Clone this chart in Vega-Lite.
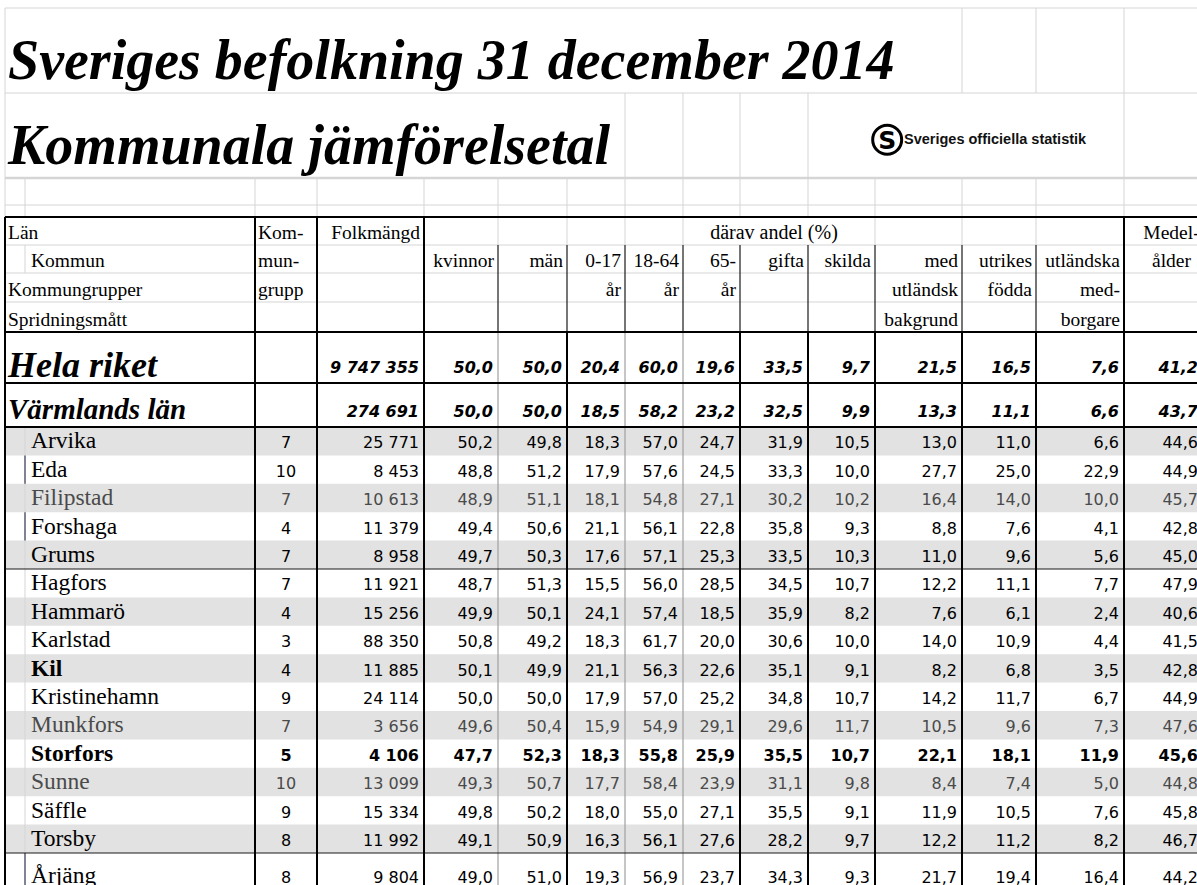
{
  "$schema": "https://vega.github.io/schema/vega-lite/v6.json",
  "width": 1197,
  "height": 885,
  "autosize": {"type": "none"},
  "padding": 0,
  "background": "white",
  "config": {
    "view": {"stroke": null},
    "axis": {"disable": true},
    "locale": {"number": {"decimal": ",", "thousands": " ", "grouping": [3], "currency": ["", " kr"]}}
  },
  "datasets": {
    "rows": [
      {"name": "Hela riket", "level": "riket", "r": 9, "grupp": null, "folk": 9747355, "kv": 50.0, "man": 50.0, "a017": 20.4, "a1864": 60.0, "a65": 19.6, "gifta": 33.5, "skilda": 9.7, "utlbak": 21.5, "utrfod": 16.5, "utlmed": 7.6, "alder": 41.2},
      {"name": "Värmlands län", "level": "lan", "r": 10, "grupp": null, "folk": 274691, "kv": 50.0, "man": 50.0, "a017": 18.5, "a1864": 58.2, "a65": 23.2, "gifta": 32.5, "skilda": 9.9, "utlbak": 13.3, "utrfod": 11.1, "utlmed": 6.6, "alder": 43.7},
      {"name": "Arvika", "level": "kommun", "r": 11, "grupp": 7, "folk": 25771, "kv": 50.2, "man": 49.8, "a017": 18.3, "a1864": 57.0, "a65": 24.7, "gifta": 31.9, "skilda": 10.5, "utlbak": 13.0, "utrfod": 11.0, "utlmed": 6.6, "alder": 44.6},
      {"name": "Eda", "level": "kommun", "r": 12, "grupp": 10, "folk": 8453, "kv": 48.8, "man": 51.2, "a017": 17.9, "a1864": 57.6, "a65": 24.5, "gifta": 33.3, "skilda": 10.0, "utlbak": 27.7, "utrfod": 25.0, "utlmed": 22.9, "alder": 44.9},
      {"name": "Filipstad", "level": "kommun", "r": 13, "grupp": 7, "folk": 10613, "kv": 48.9, "man": 51.1, "a017": 18.1, "a1864": 54.8, "a65": 27.1, "gifta": 30.2, "skilda": 10.2, "utlbak": 16.4, "utrfod": 14.0, "utlmed": 10.0, "alder": 45.7},
      {"name": "Forshaga", "level": "kommun", "r": 14, "grupp": 4, "folk": 11379, "kv": 49.4, "man": 50.6, "a017": 21.1, "a1864": 56.1, "a65": 22.8, "gifta": 35.8, "skilda": 9.3, "utlbak": 8.8, "utrfod": 7.6, "utlmed": 4.1, "alder": 42.8},
      {"name": "Grums", "level": "kommun", "r": 15, "grupp": 7, "folk": 8958, "kv": 49.7, "man": 50.3, "a017": 17.6, "a1864": 57.1, "a65": 25.3, "gifta": 33.5, "skilda": 10.3, "utlbak": 11.0, "utrfod": 9.6, "utlmed": 5.6, "alder": 45.0},
      {"name": "Hagfors", "level": "kommun", "r": 16, "grupp": 7, "folk": 11921, "kv": 48.7, "man": 51.3, "a017": 15.5, "a1864": 56.0, "a65": 28.5, "gifta": 34.5, "skilda": 10.7, "utlbak": 12.2, "utrfod": 11.1, "utlmed": 7.7, "alder": 47.9},
      {"name": "Hammarö", "level": "kommun", "r": 17, "grupp": 4, "folk": 15256, "kv": 49.9, "man": 50.1, "a017": 24.1, "a1864": 57.4, "a65": 18.5, "gifta": 35.9, "skilda": 8.2, "utlbak": 7.6, "utrfod": 6.1, "utlmed": 2.4, "alder": 40.6},
      {"name": "Karlstad", "level": "kommun", "r": 18, "grupp": 3, "folk": 88350, "kv": 50.8, "man": 49.2, "a017": 18.3, "a1864": 61.7, "a65": 20.0, "gifta": 30.6, "skilda": 10.0, "utlbak": 14.0, "utrfod": 10.9, "utlmed": 4.4, "alder": 41.5},
      {"name": "Kil", "level": "kommun", "r": 19, "grupp": 4, "folk": 11885, "kv": 50.1, "man": 49.9, "a017": 21.1, "a1864": 56.3, "a65": 22.6, "gifta": 35.1, "skilda": 9.1, "utlbak": 8.2, "utrfod": 6.8, "utlmed": 3.5, "alder": 42.8},
      {"name": "Kristinehamn", "level": "kommun", "r": 20, "grupp": 9, "folk": 24114, "kv": 50.0, "man": 50.0, "a017": 17.9, "a1864": 57.0, "a65": 25.2, "gifta": 34.8, "skilda": 10.7, "utlbak": 14.2, "utrfod": 11.7, "utlmed": 6.7, "alder": 44.9},
      {"name": "Munkfors", "level": "kommun", "r": 21, "grupp": 7, "folk": 3656, "kv": 49.6, "man": 50.4, "a017": 15.9, "a1864": 54.9, "a65": 29.1, "gifta": 29.6, "skilda": 11.7, "utlbak": 10.5, "utrfod": 9.6, "utlmed": 7.3, "alder": 47.6},
      {"name": "Storfors", "level": "kommun", "r": 22, "grupp": 5, "folk": 4106, "kv": 47.7, "man": 52.3, "a017": 18.3, "a1864": 55.8, "a65": 25.9, "gifta": 35.5, "skilda": 10.7, "utlbak": 22.1, "utrfod": 18.1, "utlmed": 11.9, "alder": 45.6},
      {"name": "Sunne", "level": "kommun", "r": 23, "grupp": 10, "folk": 13099, "kv": 49.3, "man": 50.7, "a017": 17.7, "a1864": 58.4, "a65": 23.9, "gifta": 31.1, "skilda": 9.8, "utlbak": 8.4, "utrfod": 7.4, "utlmed": 5.0, "alder": 44.8},
      {"name": "Säffle", "level": "kommun", "r": 24, "grupp": 9, "folk": 15334, "kv": 49.8, "man": 50.2, "a017": 18.0, "a1864": 55.0, "a65": 27.1, "gifta": 35.5, "skilda": 9.1, "utlbak": 11.9, "utrfod": 10.5, "utlmed": 7.6, "alder": 45.8},
      {"name": "Torsby", "level": "kommun", "r": 25, "grupp": 8, "folk": 11992, "kv": 49.1, "man": 50.9, "a017": 16.3, "a1864": 56.1, "a65": 27.6, "gifta": 28.2, "skilda": 9.7, "utlbak": 12.2, "utrfod": 11.2, "utlmed": 8.2, "alder": 46.7},
      {"name": "Årjäng", "level": "kommun", "r": 26, "grupp": 8, "folk": 9804, "kv": 49.0, "man": 51.0, "a017": 19.3, "a1864": 56.9, "a65": 23.7, "gifta": 34.3, "skilda": 9.3, "utlbak": 21.7, "utrfod": 19.4, "utlmed": 16.4, "alder": 44.2}
    ],
    "cols": [
      {"col": "grupp", "k": 3}, {"col": "folk", "k": 4}, {"col": "kv", "k": 5}, {"col": "man", "k": 6},
      {"col": "a017", "k": 7}, {"col": "a1864", "k": 8}, {"col": "a65", "k": 9}, {"col": "gifta", "k": 10},
      {"col": "skilda", "k": 11}, {"col": "utlbak", "k": 12}, {"col": "utrfod", "k": 13}, {"col": "utlmed", "k": 14},
      {"col": "alder", "k": 15}
    ],
    "head": [
      {"r": 5, "col": "label", "t": "Län"},
      {"r": 5, "col": "grupp", "t": "Kom-"},
      {"r": 5, "col": "folk", "t": "Folkmängd"},
      {"r": 5, "col": "andel", "t": "därav andel (%)"},
      {"r": 5, "col": "alder", "t": "Medel-"},
      {"r": 6, "col": "kommun", "t": "Kommun"},
      {"r": 6, "col": "grupp", "t": "mun-"},
      {"r": 6, "col": "kv", "t": "kvinnor"},
      {"r": 6, "col": "man", "t": "män"},
      {"r": 6, "col": "a017", "t": "0-17"},
      {"r": 6, "col": "a1864", "t": "18-64"},
      {"r": 6, "col": "a65", "t": "65-"},
      {"r": 6, "col": "gifta", "t": "gifta"},
      {"r": 6, "col": "skilda", "t": "skilda"},
      {"r": 6, "col": "utlbak", "t": "med"},
      {"r": 6, "col": "utrfod", "t": "utrikes"},
      {"r": 6, "col": "utlmed", "t": "utländska"},
      {"r": 6, "col": "alder", "t": "ålder"},
      {"r": 7, "col": "label", "t": "Kommungrupper"},
      {"r": 7, "col": "grupp", "t": "grupp"},
      {"r": 7, "col": "a017", "t": "år"},
      {"r": 7, "col": "a1864", "t": "år"},
      {"r": 7, "col": "a65", "t": "år"},
      {"r": 7, "col": "utlbak", "t": "utländsk"},
      {"r": 7, "col": "utrfod", "t": "födda"},
      {"r": 7, "col": "utlmed", "t": "med-"},
      {"r": 8, "col": "label", "t": "Spridningsmått"},
      {"r": 8, "col": "utlbak", "t": "bakgrund"},
      {"r": 8, "col": "utlmed", "t": "borgare"}
    ],
    "titles": [
      {"r": 1, "t": "Sveriges befolkning 31 december 2014"},
      {"r": 2, "t": "Kommunala jämförelsetal"}
    ],
    "logo": [{"s": "S", "t": "Sveriges officiella statistik"}],
    "lines": [
      {"kind": "grid", "c1": 0, "c2": 15, "r1": 0, "r2": 0},
      {"kind": "grid", "c1": 0, "c2": 15, "r1": 1, "r2": 1},
      {"kind": "grid2", "c1": 0, "c2": 15, "r1": 2, "r2": 2},
      {"kind": "grid", "c1": 0, "c2": 15, "r1": 3, "r2": 3},
      {"kind": "thick", "c1": 0, "c2": 15, "r1": 4, "r2": 4},
      {"kind": "grid", "c1": 0, "c2": 15, "r1": 5, "r2": 5},
      {"kind": "grid", "c1": 0, "c2": 15, "r1": 6, "r2": 6},
      {"kind": "grid", "c1": 0, "c2": 15, "r1": 7, "r2": 7},
      {"kind": "thick", "c1": 0, "c2": 15, "r1": 8, "r2": 8},
      {"kind": "thick", "c1": 0, "c2": 15, "r1": 9, "r2": 9},
      {"kind": "thick", "c1": 0, "c2": 15, "r1": 10, "r2": 10},
      {"kind": "thin", "c1": 0, "c2": 15, "r1": 15, "r2": 15},
      {"kind": "thin", "c1": 0, "c2": 15, "r1": 25, "r2": 25},
      {"kind": "grid", "c1": 0, "c2": 0, "r1": 0, "r2": 4},
      {"kind": "grid", "c1": 12, "c2": 12, "r1": 0, "r2": 1},
      {"kind": "grid", "c1": 13, "c2": 13, "r1": 0, "r2": 1},
      {"kind": "grid", "c1": 14, "c2": 14, "r1": 0, "r2": 1},
      {"kind": "grid", "c1": 7, "c2": 7, "r1": 1, "r2": 2},
      {"kind": "grid", "c1": 8, "c2": 8, "r1": 1, "r2": 2},
      {"kind": "grid", "c1": 9, "c2": 9, "r1": 1, "r2": 2},
      {"kind": "grid", "c1": 10, "c2": 10, "r1": 1, "r2": 2},
      {"kind": "grid", "c1": 14, "c2": 14, "r1": 1, "r2": 2},
      {"kind": "grid", "c1": 1, "c2": 1, "r1": 2, "r2": 4},
      {"kind": "grid", "c1": 2, "c2": 2, "r1": 2, "r2": 4},
      {"kind": "grid", "c1": 3, "c2": 3, "r1": 2, "r2": 4},
      {"kind": "grid", "c1": 4, "c2": 4, "r1": 2, "r2": 4},
      {"kind": "grid", "c1": 5, "c2": 5, "r1": 2, "r2": 4},
      {"kind": "grid", "c1": 6, "c2": 6, "r1": 2, "r2": 4},
      {"kind": "grid", "c1": 7, "c2": 7, "r1": 2, "r2": 4},
      {"kind": "grid", "c1": 8, "c2": 8, "r1": 2, "r2": 4},
      {"kind": "grid", "c1": 9, "c2": 9, "r1": 2, "r2": 4},
      {"kind": "grid", "c1": 10, "c2": 10, "r1": 2, "r2": 4},
      {"kind": "grid", "c1": 11, "c2": 11, "r1": 2, "r2": 4},
      {"kind": "grid", "c1": 12, "c2": 12, "r1": 2, "r2": 4},
      {"kind": "grid", "c1": 13, "c2": 13, "r1": 2, "r2": 4},
      {"kind": "grid", "c1": 14, "c2": 14, "r1": 2, "r2": 4},
      {"kind": "grid", "c1": 1, "c2": 1, "r1": 5, "r2": 6},
      {"kind": "grid", "c1": 5, "c2": 5, "r1": 4, "r2": 5},
      {"kind": "grid", "c1": 6, "c2": 6, "r1": 4, "r2": 5},
      {"kind": "grid", "c1": 7, "c2": 7, "r1": 4, "r2": 5},
      {"kind": "grid", "c1": 8, "c2": 8, "r1": 4, "r2": 5},
      {"kind": "grid", "c1": 11, "c2": 11, "r1": 4, "r2": 5},
      {"kind": "grid", "c1": 12, "c2": 12, "r1": 4, "r2": 5},
      {"kind": "grid", "c1": 13, "c2": 13, "r1": 4, "r2": 5},
      {"kind": "grid", "c1": 1, "c2": 1, "r1": 10, "r2": 26},
      {"kind": "accent", "c1": 1, "c2": 1, "r1": 11, "r2": 12},
      {"kind": "accent", "c1": 1, "c2": 1, "r1": 13, "r2": 14},
      {"kind": "accent", "c1": 1, "c2": 1, "r1": 25, "r2": 26},
      {"kind": "thin", "c1": 5, "c2": 5, "r1": 5, "r2": 8},
      {"kind": "thin", "c1": 6, "c2": 6, "r1": 5, "r2": 8},
      {"kind": "thin", "c1": 7, "c2": 7, "r1": 5, "r2": 8},
      {"kind": "thin", "c1": 8, "c2": 8, "r1": 5, "r2": 8},
      {"kind": "thin", "c1": 9, "c2": 9, "r1": 5, "r2": 8},
      {"kind": "thin", "c1": 10, "c2": 10, "r1": 5, "r2": 8},
      {"kind": "thin", "c1": 11, "c2": 11, "r1": 5, "r2": 8},
      {"kind": "thin", "c1": 12, "c2": 12, "r1": 5, "r2": 8},
      {"kind": "thin", "c1": 13, "c2": 13, "r1": 5, "r2": 8},
      {"kind": "mid", "c1": 5, "c2": 5, "r1": 8, "r2": 26},
      {"kind": "mid", "c1": 7, "c2": 7, "r1": 8, "r2": 26},
      {"kind": "mid", "c1": 8, "c2": 8, "r1": 8, "r2": 26},
      {"kind": "thick", "c1": 0, "c2": 0, "r1": 4, "r2": 26},
      {"kind": "thick", "c1": 2, "c2": 2, "r1": 4, "r2": 26},
      {"kind": "thick", "c1": 3, "c2": 3, "r1": 4, "r2": 26},
      {"kind": "thick", "c1": 4, "c2": 4, "r1": 4, "r2": 26},
      {"kind": "thick", "c1": 14, "c2": 14, "r1": 4, "r2": 26},
      {"kind": "thick", "c1": 6, "c2": 6, "r1": 8, "r2": 26},
      {"kind": "thick", "c1": 9, "c2": 9, "r1": 8, "r2": 26},
      {"kind": "thick", "c1": 10, "c2": 10, "r1": 8, "r2": 26},
      {"kind": "thick", "c1": 11, "c2": 11, "r1": 8, "r2": 26},
      {"kind": "thick", "c1": 12, "c2": 12, "r1": 8, "r2": 26},
      {"kind": "thick", "c1": 13, "c2": 13, "r1": 8, "r2": 26}
    ]
  },
  "layer": [
    {
      "data": {"name": "rows"},
      "transform": [{"filter": "datum.level === 'kommun' && datum.r % 2 === 1"}],
      "mark": {"type": "rect", "color": "#e2e2e2", "y2Offset": -28.4},
      "encoding": {
        "x": {"datum": 0, "type": "quantitative", "axis": null, "scale": {"domain": [0, 1, 2, 3, 4, 5, 6, 7, 8, 9, 10, 11, 12, 13, 14, 15], "range": [5, 25, 255, 317, 424, 498, 567, 625, 683, 740, 808, 875, 962, 1036, 1124, 1203], "nice": false, "zero": false}},
        "x2": {"datum": 15},
        "y": {"field": "r", "type": "quantitative", "axis": null, "scale": {"domain": [0, 1, 2, 3, 4, 5, 6, 7, 8, 9, 10, 11, 12, 13, 14, 15, 16, 17, 18, 19, 20, 21, 22, 23, 24, 25, 26], "range": [8, 93, 178, 205, 217, 245, 273, 302, 332, 383, 427, 455.4, 483.8, 512.2, 540.6, 569, 597.4, 625.8, 654.2, 682.6, 711, 739.4, 767.8, 796.2, 824.6, 853, 890], "nice": false, "zero": false}},
        "y2": {"field": "r"}
      }
    },
    {
      "data": {"name": "lines"},
      "transform": [{"filter": "datum.kind === 'grid'"}],
      "mark": {"type": "rule", "color": "#d5d5d5", "strokeWidth": 1},
      "encoding": {"x": {"field": "c1", "type": "quantitative"}, "x2": {"field": "c2"}, "y": {"field": "r1", "type": "quantitative"}, "y2": {"field": "r2"}}
    },
    {
      "data": {"name": "lines"},
      "transform": [{"filter": "datum.kind === 'grid2'"}],
      "mark": {"type": "rule", "color": "#d5d5d5", "strokeWidth": 2.5},
      "encoding": {"x": {"field": "c1", "type": "quantitative"}, "x2": {"field": "c2"}, "y": {"field": "r1", "type": "quantitative"}, "y2": {"field": "r2"}}
    },
    {
      "data": {"name": "lines"},
      "transform": [{"filter": "datum.kind === 'mid'"}],
      "mark": {"type": "rule", "color": "#a0a0a0", "strokeWidth": 1.2},
      "encoding": {"x": {"field": "c1", "type": "quantitative"}, "x2": {"field": "c2"}, "y": {"field": "r1", "type": "quantitative"}, "y2": {"field": "r2"}}
    },
    {
      "data": {"name": "lines"},
      "transform": [{"filter": "datum.kind === 'accent'"}],
      "mark": {"type": "rule", "color": "#3a3f5a", "strokeWidth": 1.2},
      "encoding": {"x": {"field": "c1", "type": "quantitative"}, "x2": {"field": "c2"}, "y": {"field": "r1", "type": "quantitative"}, "y2": {"field": "r2"}}
    },
    {
      "data": {"name": "lines"},
      "transform": [{"filter": "datum.kind === 'thin'"}],
      "mark": {"type": "rule", "color": "#1a1a1a", "strokeWidth": 1.2},
      "encoding": {"x": {"field": "c1", "type": "quantitative"}, "x2": {"field": "c2"}, "y": {"field": "r1", "type": "quantitative"}, "y2": {"field": "r2"}}
    },
    {
      "data": {"name": "lines"},
      "transform": [{"filter": "datum.kind === 'thick'"}],
      "mark": {"type": "rule", "color": "#000000", "strokeWidth": 2},
      "encoding": {"x": {"field": "c1", "type": "quantitative"}, "x2": {"field": "c2"}, "y": {"field": "r1", "type": "quantitative"}, "y2": {"field": "r2"}}
    },
    {
      "data": {"name": "titles"},
      "mark": {"type": "text", "align": "left", "baseline": "alphabetic", "dx": 3, "dy": -14, "font": "Liberation Serif", "fontSize": 56, "fontWeight": "bold", "fontStyle": "italic", "color": "#000"},
      "encoding": {"x": {"datum": 0, "type": "quantitative"}, "y": {"field": "r", "type": "quantitative"}, "text": {"field": "t"}}
    },
    {
      "data": {"name": "logo"},
      "mark": {"type": "point", "shape": "circle", "filled": false, "stroke": "#000", "strokeWidth": 3, "size": 840, "opacity": 1},
      "encoding": {"x": {"datum": 11.14, "type": "quantitative"}, "y": {"datum": 1.55, "type": "quantitative"}}
    },
    {
      "data": {"name": "logo"},
      "mark": {"type": "text", "align": "center", "baseline": "middle", "dy": 1, "font": "DejaVu Sans", "fontSize": 25, "fontWeight": "bold", "color": "#000"},
      "encoding": {"x": {"datum": 11.14, "type": "quantitative"}, "y": {"datum": 1.55, "type": "quantitative"}, "text": {"field": "s"}}
    },
    {
      "data": {"name": "logo"},
      "mark": {"type": "text", "align": "left", "baseline": "middle", "dx": 29, "font": "Liberation Sans", "fontSize": 14.5, "fontWeight": "bold", "color": "#111"},
      "encoding": {"x": {"datum": 11, "type": "quantitative"}, "y": {"datum": 1.55, "type": "quantitative"}, "text": {"field": "t"}}
    },
    {
      "data": {"name": "head"},
      "transform": [{"filter": "datum.col === 'label'"}],
      "mark": {"type": "text", "align": "left", "baseline": "alphabetic", "dx": 3, "dy": -6, "font": "Liberation Serif", "fontSize": 19.5, "color": "#000"},
      "encoding": {"x": {"datum": 0, "type": "quantitative"}, "y": {"field": "r", "type": "quantitative"}, "text": {"field": "t"}}
    },
    {
      "data": {"name": "head"},
      "transform": [{"filter": "datum.col === 'kommun'"}],
      "mark": {"type": "text", "align": "left", "baseline": "alphabetic", "dx": 6, "dy": -6, "font": "Liberation Serif", "fontSize": 19.5, "color": "#000"},
      "encoding": {"x": {"datum": 1, "type": "quantitative"}, "y": {"field": "r", "type": "quantitative"}, "text": {"field": "t"}}
    },
    {
      "data": {"name": "head"},
      "transform": [{"filter": "datum.col === 'grupp'"}],
      "mark": {"type": "text", "align": "left", "baseline": "alphabetic", "dx": 3, "dy": -6, "font": "Liberation Serif", "fontSize": 19.5, "color": "#000"},
      "encoding": {"x": {"datum": 2, "type": "quantitative"}, "y": {"field": "r", "type": "quantitative"}, "text": {"field": "t"}}
    },
    {
      "data": {"name": "head"},
      "transform": [
        {"filter": "indexof(['label','kommun','grupp','andel','alder'], datum.col) < 0"},
        {"lookup": "col", "from": {"data": {"name": "cols"}, "key": "col", "fields": ["k"]}}
      ],
      "mark": {"type": "text", "align": "right", "baseline": "alphabetic", "dx": -4, "dy": -6, "font": "Liberation Serif", "fontSize": 19.5, "color": "#000"},
      "encoding": {"x": {"field": "k", "type": "quantitative"}, "y": {"field": "r", "type": "quantitative"}, "text": {"field": "t"}}
    },
    {
      "data": {"name": "head"},
      "transform": [{"filter": "datum.col === 'andel'"}],
      "mark": {"type": "text", "align": "center", "baseline": "alphabetic", "dy": -6, "font": "Liberation Serif", "fontSize": 20, "color": "#000"},
      "encoding": {"x": {"datum": 9.5, "type": "quantitative"}, "y": {"field": "r", "type": "quantitative"}, "text": {"field": "t"}}
    },
    {
      "data": {"name": "head"},
      "transform": [{"filter": "datum.col === 'alder'"}],
      "mark": {"type": "text", "align": "center", "baseline": "alphabetic", "dx": 8, "dy": -6, "font": "Liberation Serif", "fontSize": 19.5, "color": "#000"},
      "encoding": {"x": {"datum": 14.5, "type": "quantitative"}, "y": {"field": "r", "type": "quantitative"}, "text": {"field": "t"}}
    },
    {
      "data": {"name": "rows"},
      "transform": [{"filter": "datum.level === 'riket'"}],
      "mark": {"type": "text", "align": "left", "baseline": "alphabetic", "dx": 3, "dy": -6, "font": "Liberation Serif", "fontSize": 36, "fontWeight": "bold", "fontStyle": "italic", "color": "#000"},
      "encoding": {"x": {"datum": 0, "type": "quantitative"}, "y": {"field": "r", "type": "quantitative"}, "text": {"field": "name"}}
    },
    {
      "data": {"name": "rows"},
      "transform": [{"filter": "datum.level === 'lan'"}],
      "mark": {"type": "text", "align": "left", "baseline": "alphabetic", "dx": 3, "dy": -8, "font": "Liberation Serif", "fontSize": 29, "fontWeight": "bold", "fontStyle": "italic", "color": "#000"},
      "encoding": {"x": {"datum": 0, "type": "quantitative"}, "y": {"field": "r", "type": "quantitative"}, "text": {"field": "name"}}
    },
    {
      "data": {"name": "rows"},
      "transform": [{"filter": "datum.level === 'riket' || datum.level === 'lan'"}],
      "mark": {"type": "text", "align": "right", "baseline": "alphabetic", "dx": -5, "dy": -10, "font": "DejaVu Sans", "fontSize": 16, "fontWeight": "bold", "fontStyle": "italic", "color": "#000"},
      "encoding": {"x": {"datum": 4, "type": "quantitative"}, "y": {"field": "r", "type": "quantitative"}, "text": {"field": "folk", "type": "quantitative", "format": ",d"}}
    },
    {
      "data": {"name": "rows"},
      "transform": [
        {"filter": "datum.level === 'riket' || datum.level === 'lan'"},
        {"fold": ["kv", "man", "a017", "a1864", "a65", "gifta", "skilda", "utlbak", "utrfod", "utlmed", "alder"], "as": ["col", "value"]},
        {"lookup": "col", "from": {"data": {"name": "cols"}, "key": "col", "fields": ["k"]}}
      ],
      "mark": {"type": "text", "align": "right", "baseline": "alphabetic", "dx": -5, "dy": -10, "font": "DejaVu Sans", "fontSize": 16, "fontWeight": "bold", "fontStyle": "italic", "color": "#000"},
      "encoding": {"x": {"field": "k", "type": "quantitative"}, "y": {"field": "r", "type": "quantitative"}, "text": {"field": "value", "type": "quantitative", "format": ".1f"}}
    },
    {
      "data": {"name": "rows"},
      "transform": [{"filter": "datum.level === 'kommun' && datum.name !== 'Storfors' && datum.name !== 'Kil'"}],
      "mark": {"type": "text", "align": "left", "baseline": "alphabetic", "dx": 6, "dy": -7, "font": "Liberation Serif", "fontSize": 23.5},
      "encoding": {
        "x": {"datum": 1, "type": "quantitative"}, "y": {"field": "r", "type": "quantitative"}, "text": {"field": "name"},
        "color": {"condition": {"test": "indexof(['Munkfors','Sunne','Filipstad'], datum.name) >= 0", "value": "#4a4a4a"}, "value": "#000000"}
      }
    },
    {
      "data": {"name": "rows"},
      "transform": [{"filter": "datum.name === 'Storfors' || datum.name === 'Kil'"}],
      "mark": {"type": "text", "align": "left", "baseline": "alphabetic", "dx": 6, "dy": -7, "font": "Liberation Serif", "fontSize": 23.5, "fontWeight": "bold", "color": "#000"},
      "encoding": {"x": {"datum": 1, "type": "quantitative"}, "y": {"field": "r", "type": "quantitative"}, "text": {"field": "name"}}
    },
    {
      "data": {"name": "rows"},
      "transform": [{"filter": "datum.level === 'kommun' && datum.name !== 'Storfors'"}],
      "mark": {"type": "text", "align": "center", "baseline": "alphabetic", "dy": -7, "font": "DejaVu Sans", "fontSize": 16},
      "encoding": {
        "x": {"datum": 2.5, "type": "quantitative"}, "y": {"field": "r", "type": "quantitative"}, "text": {"field": "grupp", "type": "quantitative", "format": "d"},
        "color": {"condition": {"test": "indexof(['Munkfors','Sunne','Filipstad'], datum.name) >= 0", "value": "#4a4a4a"}, "value": "#000000"}
      }
    },
    {
      "data": {"name": "rows"},
      "transform": [{"filter": "datum.level === 'kommun' && datum.name !== 'Storfors'"}],
      "mark": {"type": "text", "align": "right", "baseline": "alphabetic", "dx": -5, "dy": -7, "font": "DejaVu Sans", "fontSize": 16},
      "encoding": {
        "x": {"datum": 4, "type": "quantitative"}, "y": {"field": "r", "type": "quantitative"}, "text": {"field": "folk", "type": "quantitative", "format": ",d"},
        "color": {"condition": {"test": "indexof(['Munkfors','Sunne','Filipstad'], datum.name) >= 0", "value": "#4a4a4a"}, "value": "#000000"}
      }
    },
    {
      "data": {"name": "rows"},
      "transform": [
        {"filter": "datum.level === 'kommun' && datum.name !== 'Storfors'"},
        {"fold": ["kv", "man", "a017", "a1864", "a65", "gifta", "skilda", "utlbak", "utrfod", "utlmed", "alder"], "as": ["col", "value"]},
        {"lookup": "col", "from": {"data": {"name": "cols"}, "key": "col", "fields": ["k"]}}
      ],
      "mark": {"type": "text", "align": "right", "baseline": "alphabetic", "dx": -5, "dy": -7, "font": "DejaVu Sans", "fontSize": 16},
      "encoding": {
        "x": {"field": "k", "type": "quantitative"}, "y": {"field": "r", "type": "quantitative"}, "text": {"field": "value", "type": "quantitative", "format": ".1f"},
        "color": {"condition": {"test": "indexof(['Munkfors','Sunne','Filipstad'], datum.name) >= 0", "value": "#4a4a4a"}, "value": "#000000"}
      }
    },
    {
      "data": {"name": "rows"},
      "transform": [{"filter": "datum.name === 'Storfors'"}],
      "mark": {"type": "text", "align": "center", "baseline": "alphabetic", "dy": -7, "font": "DejaVu Sans", "fontSize": 16, "fontWeight": "bold", "color": "#000"},
      "encoding": {"x": {"datum": 2.5, "type": "quantitative"}, "y": {"field": "r", "type": "quantitative"}, "text": {"field": "grupp", "type": "quantitative", "format": "d"}}
    },
    {
      "data": {"name": "rows"},
      "transform": [{"filter": "datum.name === 'Storfors'"}],
      "mark": {"type": "text", "align": "right", "baseline": "alphabetic", "dx": -5, "dy": -7, "font": "DejaVu Sans", "fontSize": 16, "fontWeight": "bold", "color": "#000"},
      "encoding": {"x": {"datum": 4, "type": "quantitative"}, "y": {"field": "r", "type": "quantitative"}, "text": {"field": "folk", "type": "quantitative", "format": ",d"}}
    },
    {
      "data": {"name": "rows"},
      "transform": [
        {"filter": "datum.name === 'Storfors'"},
        {"fold": ["kv", "man", "a017", "a1864", "a65", "gifta", "skilda", "utlbak", "utrfod", "utlmed", "alder"], "as": ["col", "value"]},
        {"lookup": "col", "from": {"data": {"name": "cols"}, "key": "col", "fields": ["k"]}}
      ],
      "mark": {"type": "text", "align": "right", "baseline": "alphabetic", "dx": -5, "dy": -7, "font": "DejaVu Sans", "fontSize": 16, "fontWeight": "bold", "color": "#000"},
      "encoding": {"x": {"field": "k", "type": "quantitative"}, "y": {"field": "r", "type": "quantitative"}, "text": {"field": "value", "type": "quantitative", "format": ".1f"}}
    }
  ]
}
